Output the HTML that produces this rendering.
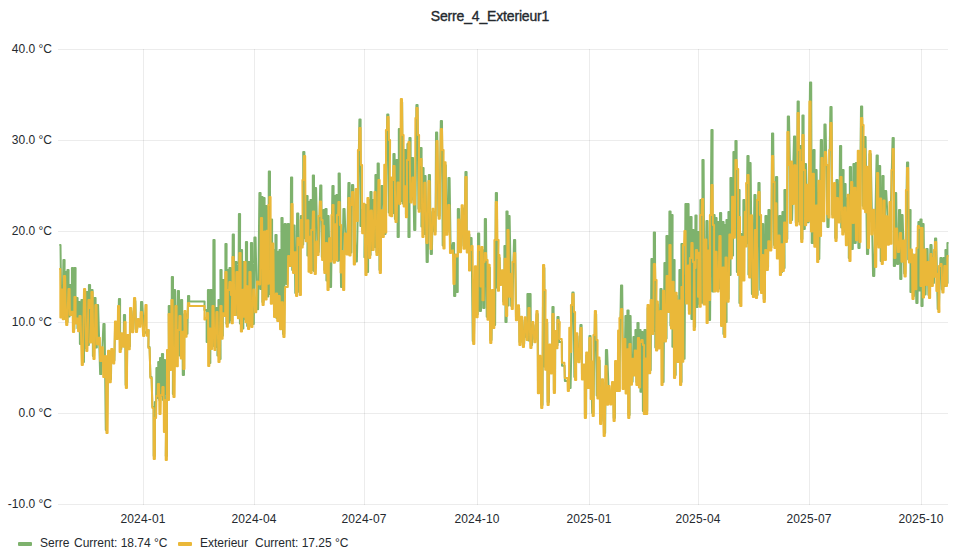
<!DOCTYPE html>
<html lang="fr"><head><meta charset="utf-8"><title>Serre_4_Exterieur1</title>
<style>
html,body{margin:0;padding:0;background:#fff;}
body{width:980px;height:560px;position:relative;overflow:hidden;font-family:"Liberation Sans",sans-serif;color:#24292e;}
.title{position:absolute;left:0;top:8px;width:980px;text-align:center;font-size:14px;line-height:16px;font-weight:400;color:#24292e;-webkit-text-stroke:0.35px #24292e;letter-spacing:-0.17px;}
.plot{position:absolute;left:0;top:0;}
.yl{position:absolute;left:0;width:52px;text-align:right;font-size:12px;line-height:14px;white-space:nowrap;}
.xl{position:absolute;width:80px;text-align:center;font-size:12px;line-height:14px;top:512px;letter-spacing:0.15px;}
.lg{position:absolute;top:536px;font-size:12px;line-height:14px;white-space:nowrap;}
.sw{position:absolute;top:542px;width:14px;height:4px;border-radius:1px;}
</style></head><body>
<div class="title">Serre_4_Exterieur1</div>
<svg class="plot" width="980" height="560" viewBox="0 0 980 560">
<rect x="58" y="49" width="890" height="1" fill="rgba(0,0,0,0.075)"/>
<rect x="58" y="140" width="890" height="1" fill="rgba(0,0,0,0.075)"/>
<rect x="58" y="231" width="890" height="1" fill="rgba(0,0,0,0.075)"/>
<rect x="58" y="322" width="890" height="1" fill="rgba(0,0,0,0.075)"/>
<rect x="58" y="413" width="890" height="1" fill="rgba(0,0,0,0.075)"/>
<rect x="58" y="504" width="890" height="1" fill="rgba(0,0,0,0.075)"/>
<rect x="143" y="49" width="1" height="456" fill="rgba(0,0,0,0.075)"/>
<rect x="254" y="49" width="1" height="456" fill="rgba(0,0,0,0.075)"/>
<rect x="364" y="49" width="1" height="456" fill="rgba(0,0,0,0.075)"/>
<rect x="477" y="49" width="1" height="456" fill="rgba(0,0,0,0.075)"/>
<rect x="589" y="49" width="1" height="456" fill="rgba(0,0,0,0.075)"/>
<rect x="698" y="49" width="1" height="456" fill="rgba(0,0,0,0.075)"/>
<rect x="809" y="49" width="1" height="456" fill="rgba(0,0,0,0.075)"/>
<rect x="921" y="49" width="1" height="456" fill="rgba(0,0,0,0.075)"/>
<polyline fill="none" stroke="#7eb26d" stroke-width="2" stroke-linejoin="round" points="59.30,245.0 60.50,245.0 61.35,316.2 62.55,316.2 63.40,260.0 64.60,260.0 64.40,318.8 65.60,318.8 65.40,272.0 66.60,272.0 66.40,322.0 67.60,322.0 67.40,270.0 68.60,270.0 68.40,316.4 69.60,316.4 69.40,285.0 70.60,285.0 70.65,311.9 71.85,311.9 71.90,268.0 73.10,268.0 73.15,329.0 74.35,329.0 74.40,268.0 75.60,268.0 75.40,320.5 76.60,320.5 76.40,298.0 77.60,298.0 77.40,328.2 78.60,328.2 78.40,302.0 79.60,302.0 79.90,343.9 81.10,343.9 81.40,300.0 82.60,300.0 82.78,362.0 83.97,362.0 84.15,292.0 85.35,292.0 85.28,348.0 86.47,348.0 86.40,292.0 87.60,292.0 87.65,345.1 88.85,345.1 88.90,285.0 90.10,285.0 90.15,339.5 91.35,339.5 91.40,290.0 92.60,290.0 92.90,356.0 94.10,356.0 94.40,298.0 95.60,298.0 95.65,347.6 96.85,347.6 96.90,305.0 98.10,305.0 100.15,374.1 101.35,374.1 103.40,324.0 104.60,324.0 105.78,430.0 106.98,430.0 108.17,353.8 109.37,353.8 109.76,379.3 110.96,379.3 111.35,352.1 112.55,352.1 113.22,360.4 114.42,360.4 115.09,324.5 116.29,324.5 116.99,335.9 118.19,335.9 118.90,299.0 120.10,299.0 120.11,349.0 121.31,349.0 121.31,336.2 122.51,336.2 122.61,343.7 123.81,343.7 123.90,315.0 125.10,315.0 125.62,385.0 126.82,385.0 127.33,337.9 128.53,337.9 128.74,346.3 129.94,346.3 130.15,311.0 131.35,311.0 132.15,329.2 133.35,329.2 134.15,301.0 135.35,301.0 136.00,329.0 137.20,329.0 137.84,322.1 139.04,322.1 139.42,323.7 140.62,323.7 141.00,302.0 142.20,302.0 144.00,333.0 145.20,333.0 147.40,330.0 148.60,330.0 148.40,347.0 149.60,347.0 150.40,377.0 151.60,377.0 152.40,407.0 153.60,407.0 153.70,456.0 154.90,456.0 154.90,402.0 156.10,402.0 156.40,368.0 157.60,368.0 157.40,398.0 158.60,398.0 158.20,362.0 159.40,362.0 159.20,400.0 160.40,400.0 160.00,358.0 161.20,358.0 161.00,396.0 162.20,396.0 161.90,354.0 163.10,354.0 163.00,400.0 164.20,400.0 163.90,360.0 165.10,360.0 164.70,394.0 165.90,394.0 165.40,362.0 166.60,362.0 165.80,456.0 167.00,456.0 167.00,352.0 168.20,352.0 167.80,396.0 169.00,396.0 168.70,306.0 169.90,306.0 170.35,367.1 171.55,367.1 171.80,277.0 173.00,277.0 172.85,394.0 174.05,394.0 173.90,290.0 175.10,290.0 175.85,363.2 177.05,363.2 177.80,291.0 179.00,291.0 179.40,355.4 180.60,355.4 181.00,300.0 182.20,300.0 182.78,375.0 183.97,375.0 184.55,314.0 185.75,314.0 186.28,333.8 187.47,333.8 188.00,296.0 189.20,296.0 189.20,301.5 190.40,301.5 190.40,301.5 191.60,301.5 191.50,301.5 192.70,301.5 192.60,301.5 193.80,301.5 193.95,301.5 195.15,301.5 195.30,301.5 196.50,301.5 196.65,301.5 197.85,301.5 198.00,301.5 199.20,301.5 199.35,301.5 200.55,301.5 200.70,301.5 201.90,301.5 202.05,301.5 203.25,301.5 203.40,301.5 204.60,301.5 204.40,310.0 205.60,310.0 205.40,310.0 206.60,310.0 206.65,342.1 207.85,342.1 207.90,290.0 209.10,290.0 209.15,363.0 210.35,363.0 210.40,290.0 211.60,290.0 211.90,346.0 213.10,346.0 213.40,240.0 214.60,240.0 214.90,347.0 216.10,347.0 216.40,308.0 217.60,308.0 217.40,355.5 218.60,355.5 218.40,300.0 219.60,300.0 219.40,359.0 220.60,359.0 220.40,270.0 221.60,270.0 221.65,335.8 222.85,335.8 222.90,280.0 224.10,280.0 224.15,313.1 225.35,313.1 225.40,244.0 226.60,244.0 226.40,323.8 227.60,323.8 227.40,270.0 228.60,270.0 228.40,322.6 229.60,322.6 229.40,268.0 230.60,268.0 231.05,320.2 232.25,320.2 232.70,234.5 233.90,234.5 234.05,312.0 235.25,312.0 235.40,262.0 236.60,262.0 237.15,315.2 238.35,315.2 238.90,214.0 240.10,214.0 239.90,323.6 241.10,323.6 240.90,250.0 242.10,250.0 242.15,328.5 243.35,328.5 243.40,262.0 244.60,262.0 244.65,319.2 245.85,319.2 245.90,242.0 247.10,242.0 247.15,326.0 248.35,326.0 248.40,262.0 249.60,262.0 249.65,325.1 250.85,325.1 250.90,243.0 252.10,243.0 252.65,324.0 253.85,324.0 254.40,237.5 255.60,237.5 256.90,309.2 258.10,309.2 259.40,193.0 260.60,193.0 260.40,289.1 261.60,289.1 261.40,197.0 262.60,197.0 262.40,302.0 263.60,302.0 263.40,198.0 264.60,198.0 264.40,298.7 265.60,298.7 265.40,206.0 266.60,206.0 267.10,296.5 268.30,296.5 268.80,171.6 270.00,171.6 269.85,293.9 271.05,293.9 270.90,219.5 272.10,219.5 272.15,300.7 273.35,300.7 273.40,250.0 274.60,250.0 274.40,314.0 275.60,314.0 275.40,235.0 276.60,235.0 276.40,318.1 277.60,318.1 277.40,252.0 278.60,252.0 278.40,321.1 279.60,321.1 279.40,250.0 280.60,250.0 280.40,326.2 281.60,326.2 281.40,218.0 282.60,218.0 283.00,334.0 284.20,334.0 284.60,224.0 285.80,224.0 286.15,284.1 287.35,284.1 287.70,224.0 288.90,224.0 289.35,263.1 290.55,263.1 291.00,177.6 292.20,177.6 292.20,270.0 293.40,270.0 293.40,225.5 294.60,225.5 295.25,293.0 296.45,293.0 297.10,213.5 298.30,213.5 299.00,292.0 300.20,292.0 300.90,216.0 302.10,216.0 302.05,244.4 303.25,244.4 303.20,152.0 304.40,152.0 304.80,238.3 306.00,238.3 306.40,196.0 307.60,196.0 307.40,255.6 308.60,255.6 308.40,202.0 309.60,202.0 309.40,268.7 310.60,268.7 310.40,200.0 311.60,200.0 311.60,270.0 312.80,270.0 312.80,175.6 314.00,175.6 313.85,271.0 315.05,271.0 314.90,188.0 316.10,188.0 317.55,252.0 318.75,252.0 320.20,185.6 321.40,185.6 321.80,257.1 323.00,257.1 323.40,210.0 324.60,210.0 324.40,270.0 325.60,270.0 325.40,209.0 326.60,209.0 326.40,280.5 327.60,280.5 327.40,216.0 328.60,216.0 329.90,287.0 331.10,287.0 332.40,186.0 333.60,186.0 333.40,259.8 334.60,259.8 334.40,196.0 335.60,196.0 335.40,257.2 336.60,257.2 336.40,195.0 337.60,195.0 337.50,260.8 338.70,260.8 338.60,173.6 339.80,173.6 341.00,287.0 342.20,287.0 343.40,209.0 344.60,209.0 345.90,251.4 347.10,251.4 348.40,183.0 349.60,183.0 350.20,252.4 351.40,252.4 352.00,185.0 353.20,185.0 355.70,261.4 356.90,261.4 359.40,119.6 360.60,119.6 360.40,225.9 361.60,225.9 361.40,210.0 362.60,210.0 362.40,230.2 363.60,230.2 363.40,222.0 364.60,222.0 364.40,257.3 365.60,257.3 365.40,205.0 366.60,205.0 366.90,272.0 368.10,272.0 368.40,200.0 369.60,200.0 369.40,255.1 370.60,255.1 370.40,192.0 371.60,192.0 371.40,250.1 372.60,250.1 372.40,200.0 373.60,200.0 373.90,247.1 375.10,247.1 375.40,175.0 376.60,175.0 376.50,251.9 377.70,251.9 377.60,163.6 378.80,163.6 379.50,270.0 380.70,270.0 381.40,186.0 382.60,186.0 384.30,233.9 385.50,233.9 387.20,114.4 388.40,114.4 388.75,212.4 389.95,212.4 390.30,180.4 391.50,180.4 391.85,213.2 393.05,213.2 393.40,154.0 394.60,154.0 394.90,219.0 396.10,219.0 396.40,160.0 397.60,160.0 397.60,237.0 398.80,237.0 398.80,129.0 400.00,129.0 399.87,201.0 401.07,201.0 400.95,102.0 402.15,102.0 402.67,203.6 403.88,203.6 404.40,150.0 405.60,150.0 405.90,214.2 407.10,214.2 407.40,144.0 408.60,144.0 408.40,237.0 409.60,237.0 409.40,138.0 410.60,138.0 410.65,199.6 411.85,199.6 411.90,158.0 413.10,158.0 414.15,230.0 415.35,230.0 416.40,105.0 417.60,105.0 418.40,208.8 419.60,208.8 420.40,148.0 421.60,148.0 421.40,226.5 422.60,226.5 422.40,168.0 423.60,168.0 423.40,234.0 424.60,234.0 424.40,176.0 425.60,176.0 426.60,262.0 427.80,262.0 428.80,175.0 430.00,175.0 430.70,254.0 431.90,254.0 432.59,211.7 433.79,211.7 434.30,231.5 435.50,231.5 436.00,132.4 437.20,132.4 438.40,215.8 439.60,215.8 440.80,121.0 442.00,121.0 442.68,245.6 443.88,245.6 444.56,165.3 445.76,165.3 446.48,231.8 447.68,231.8 448.40,178.0 449.60,178.0 450.65,250.1 451.85,250.1 452.90,243.0 454.10,243.0 454.09,296.0 455.29,296.0 455.27,257.5 456.47,257.5 456.54,292.0 457.74,292.0 457.80,209.0 459.00,209.0 459.79,249.3 460.99,249.3 461.77,208.2 462.97,208.2 463.59,245.8 464.79,245.8 465.40,172.0 466.60,172.0 466.80,249.6 468.00,249.6 468.21,234.5 469.41,234.5 469.30,267.6 470.50,267.6 470.40,238.0 471.60,238.0 472.73,341.0 473.93,341.0 475.05,269.3 476.25,269.3 476.53,314.3 477.73,314.3 478.00,233.6 479.20,233.6 479.77,311.0 480.98,311.0 481.55,250.0 482.75,250.0 483.17,308.0 484.38,308.0 484.80,219.0 486.00,219.0 486.71,316.8 487.91,316.8 488.63,267.7 489.83,267.7 490.34,340.0 491.54,340.0 492.05,293.0 493.25,293.0 493.93,325.1 495.13,325.1 495.80,193.0 497.00,193.0 497.13,287.7 498.33,287.7 498.46,258.1 499.66,258.1 500.23,282.0 501.43,282.0 502.00,273.2 503.20,273.2 503.20,301.6 504.40,301.6 504.40,246.0 505.60,246.0 505.40,322.0 506.60,322.0 506.40,211.6 507.60,211.6 507.40,305.6 508.60,305.6 508.40,216.0 509.60,216.0 511.20,306.1 512.40,306.1 514.00,240.0 515.20,240.0 515.98,317.3 517.18,317.3 517.96,308.3 519.16,308.3 519.50,342.0 520.70,342.0 521.03,319.8 522.23,319.8 522.95,344.0 524.15,344.0 524.87,320.3 526.07,320.3 526.14,336.9 527.34,336.9 527.40,294.0 528.60,294.0 528.40,340.5 529.60,340.5 529.40,294.0 530.60,294.0 530.88,345.0 532.08,345.0 532.35,325.1 533.55,325.1 534.45,339.3 535.65,339.3 536.55,314.0 537.75,314.0 538.01,390.2 539.21,390.2 539.47,358.8 540.67,358.8 541.31,405.0 542.51,405.0 543.15,268.0 544.35,268.0 544.61,366.8 545.81,366.8 546.07,322.8 547.27,322.8 547.69,402.0 548.89,402.0 549.31,347.6 550.51,347.6 550.86,370.6 552.06,370.6 552.40,307.0 553.60,307.0 553.85,390.0 555.05,390.0 555.30,334.0 556.50,334.0 556.35,345.2 557.55,345.2 557.40,317.0 558.60,317.0 559.03,341.9 560.23,341.9 560.66,341.9 561.86,341.9 562.02,365.7 563.22,365.7 563.37,365.7 564.57,365.7 564.89,381.1 566.09,381.1 566.41,381.1 567.61,381.1 569.40,388.0 570.60,388.0 572.40,292.4 573.60,292.4 574.36,377.0 575.56,377.0 576.32,336.3 577.52,336.3 578.36,359.3 579.56,359.3 580.40,325.0 581.60,325.0 581.99,376.4 583.19,376.4 583.59,367.4 584.79,367.4 584.94,415.0 586.14,415.0 586.29,355.6 587.49,355.6 587.85,385.1 589.05,385.1 589.40,336.0 590.60,336.0 592.17,413.0 593.38,413.0 594.95,314.0 596.15,314.0 596.69,395.5 597.89,395.5 598.43,360.5 599.63,360.5 600.22,421.0 601.42,421.0 602.02,382.3 603.22,382.3 603.96,433.0 605.16,433.0 605.90,350.0 607.10,350.0 609.03,401.7 610.23,401.7 612.15,385.1 613.35,385.1 613.68,418.0 614.88,418.0 615.21,363.9 616.41,363.9 618.11,388.0 619.31,388.0 621.00,285.6 622.20,285.6 623.20,386.0 624.40,386.0 625.40,316.0 626.60,316.0 626.40,390.4 627.60,390.4 627.40,310.6 628.60,310.6 628.40,415.0 629.60,415.0 629.40,316.0 630.60,316.0 631.40,381.8 632.60,381.8 633.40,337.0 634.60,337.0 634.40,372.5 635.60,372.5 635.40,330.0 636.60,330.0 636.40,382.1 637.60,382.1 637.40,323.0 638.60,323.0 638.40,384.4 639.60,384.4 639.40,330.0 640.60,330.0 640.40,391.8 641.60,391.8 641.40,332.0 642.60,332.0 642.90,411.0 644.10,411.0 644.40,330.0 645.60,330.0 646.00,411.0 647.20,411.0 647.61,307.9 648.81,307.9 649.50,370.3 650.70,370.3 651.40,259.0 652.60,259.0 652.60,331.0 653.80,331.0 653.80,232.4 655.00,232.4 655.29,347.5 656.49,347.5 656.79,304.5 657.99,304.5 658.59,345.6 659.79,345.6 660.40,289.0 661.60,289.0 662.40,382.0 663.60,382.0 664.40,263.0 665.60,263.0 665.40,338.6 666.60,338.6 666.40,236.0 667.60,236.0 667.90,309.0 669.10,309.0 669.40,211.6 670.60,211.6 670.40,325.5 671.60,325.5 671.40,215.0 672.60,215.0 672.40,346.8 673.60,346.8 673.40,260.0 674.60,260.0 674.50,375.0 675.70,375.0 675.60,295.8 676.80,295.8 677.50,358.9 678.70,358.9 679.40,270.0 680.60,270.0 680.40,382.0 681.60,382.0 681.40,244.0 682.60,244.0 683.40,358.8 684.60,358.8 685.40,204.0 686.60,204.0 686.40,300.5 687.60,300.5 687.40,204.0 688.60,204.0 688.90,310.8 690.10,310.8 690.40,217.0 691.60,217.0 691.40,318.9 692.60,318.9 692.40,230.0 693.60,230.0 693.90,327.0 695.10,327.0 695.40,215.6 696.60,215.6 696.40,307.0 697.60,307.0 697.40,232.0 698.60,232.0 698.90,303.8 700.10,303.8 700.40,200.0 701.60,200.0 701.40,302.8 702.60,302.8 702.40,160.0 703.60,160.0 704.40,301.5 705.60,301.5 706.40,221.0 707.60,221.0 708.90,320.0 710.10,320.0 711.40,130.0 712.60,130.0 712.40,291.5 713.60,291.5 713.40,215.0 714.60,215.0 714.40,288.4 715.60,288.4 715.40,218.0 716.60,218.0 716.40,288.5 717.60,288.5 717.40,222.0 718.60,222.0 718.70,288.6 719.90,288.6 720.00,213.0 721.20,213.0 721.20,323.0 722.40,323.0 722.40,222.0 723.60,222.0 723.40,334.0 724.60,334.0 724.40,225.0 725.60,225.0 725.40,321.9 726.60,321.9 726.40,220.0 727.60,220.0 727.40,298.8 728.60,298.8 728.40,212.0 729.60,212.0 729.40,275.0 730.60,275.0 730.40,178.0 731.60,178.0 731.90,255.4 733.10,255.4 733.40,152.0 734.60,152.0 734.40,234.8 735.60,234.8 735.40,141.0 736.60,141.0 736.90,271.9 738.10,271.9 738.40,190.0 739.60,190.0 739.40,303.0 740.60,303.0 740.40,234.0 741.60,234.0 741.90,277.5 743.10,277.5 743.40,200.0 744.60,200.0 745.40,243.4 746.60,243.4 747.40,156.0 748.60,156.0 748.40,274.4 749.60,274.4 749.40,163.0 750.60,163.0 751.90,294.0 753.10,294.0 754.40,195.0 755.60,195.0 756.40,295.0 757.60,295.0 758.40,183.0 759.60,183.0 760.20,289.9 761.40,289.9 762.00,224.0 763.20,224.0 763.70,299.0 764.90,299.0 765.40,216.0 766.60,216.0 766.90,266.9 768.10,266.9 768.40,210.0 769.60,210.0 770.20,247.6 771.40,247.6 772.00,133.6 773.20,133.6 774.00,245.1 775.20,245.1 776.00,177.0 777.20,177.0 777.70,255.4 778.90,255.4 779.40,216.0 780.60,216.0 780.90,272.0 782.10,272.0 782.40,212.0 783.60,212.0 783.40,268.0 784.60,268.0 784.40,190.0 785.60,190.0 786.10,238.9 787.30,238.9 787.80,116.4 789.00,116.4 790.90,220.1 792.10,220.1 794.00,136.4 795.20,136.4 795.80,222.4 797.00,222.4 797.60,101.6 798.80,101.6 798.80,221.6 800.00,221.6 800.00,146.0 801.20,146.0 801.20,239.0 802.40,239.0 802.40,115.4 803.60,115.4 803.60,229.1 804.80,229.1 804.80,164.0 806.00,164.0 807.40,222.3 808.60,222.3 810.00,82.4 811.20,82.4 811.70,243.0 812.90,243.0 813.40,150.0 814.60,150.0 814.40,243.7 815.60,243.7 815.40,170.0 816.60,170.0 818.10,259.0 819.30,259.0 820.80,140.0 822.00,140.0 822.60,218.2 823.80,218.2 824.40,124.4 825.60,124.4 827.40,227.0 828.60,227.0 830.40,107.0 831.60,107.0 832.28,214.4 833.48,214.4 834.15,186.0 835.35,186.0 835.28,238.0 836.48,238.0 836.40,180.0 837.60,180.0 838.20,219.5 839.40,219.5 840.00,146.0 841.20,146.0 841.20,227.6 842.40,227.6 842.40,170.0 843.60,170.0 843.40,231.6 844.60,231.6 844.40,184.0 845.60,184.0 846.07,242.3 847.27,242.3 847.74,197.7 848.94,197.7 848.77,258.0 849.97,258.0 849.80,167.0 851.00,167.0 851.60,249.0 852.80,249.0 853.40,164.0 854.60,164.0 854.60,243.1 855.80,243.1 855.80,163.0 857.00,163.0 858.40,248.0 859.60,248.0 861.00,106.6 862.20,106.6 862.70,205.8 863.90,205.8 864.40,137.0 865.60,137.0 866.98,254.0 868.18,254.0 869.55,154.0 870.75,154.0 873.07,276.0 874.27,276.0 876.60,155.4 877.80,155.4 877.80,244.5 879.00,244.5 879.00,166.0 880.20,166.0 880.70,261.0 881.90,261.0 882.40,176.0 883.60,176.0 883.70,257.0 884.90,257.0 885.00,191.0 886.20,191.0 888.80,241.7 890.00,241.7 892.60,138.0 893.80,138.0 893.80,266.0 895.00,266.0 895.00,193.0 896.20,193.0 897.00,264.0 898.20,264.0 899.00,210.0 900.20,210.0 900.20,279.0 901.40,279.0 901.40,215.0 902.60,215.0 904.20,273.5 905.40,273.5 907.00,162.4 908.20,162.4 908.20,259.5 909.40,259.5 909.40,210.0 910.60,210.0 910.40,292.0 911.60,292.0 911.40,254.0 912.60,254.0 912.82,296.0 914.02,296.0 914.24,257.8 915.44,257.8 916.32,303.0 917.52,303.0 918.40,222.0 919.60,222.0 919.40,290.4 920.60,290.4 920.40,219.6 921.60,219.6 921.40,306.0 922.60,306.0 922.40,224.0 923.60,224.0 924.40,294.5 925.60,294.5 926.40,249.0 927.60,249.0 928.40,295.0 929.60,295.0 930.40,245.0 931.60,245.0 932.70,283.1 933.90,283.1 935.00,238.6 936.20,238.6 937.70,309.0 938.90,309.0 940.40,258.0 941.60,258.0 941.90,289.5 943.10,289.5 943.40,258.0 944.60,258.0 944.40,285.9 945.60,285.9 945.40,250.0 946.60,250.0 946.40,283.0 947.60,283.0 947.40,243.0 948.60,243.0"/>
<polyline fill="none" stroke="#eab839" stroke-width="2" stroke-linejoin="round" points="59.10,269.0 60.30,269.0 60.35,317.6 61.55,317.6 61.60,289.4 62.80,289.4 62.75,319.2 63.95,319.2 63.90,276.0 65.10,276.0 66.15,325.0 67.35,325.0 68.40,289.0 69.60,289.0 69.93,314.9 71.13,314.9 71.45,311.7 72.65,311.7 72.93,332.0 74.13,332.0 74.40,297.0 75.60,297.0 75.56,323.5 76.76,323.5 76.73,318.4 77.93,318.4 78.06,331.2 79.26,331.2 79.40,316.0 80.60,316.0 81.70,365.0 82.90,365.0 84.00,289.0 85.20,289.0 86.20,351.0 87.40,351.0 88.40,300.0 89.60,300.0 89.90,308.0 91.10,308.0 89.90,308.0 91.10,308.0 90.00,342.5 91.20,342.5 91.40,292.0 92.60,292.0 93.40,359.0 94.60,359.0 95.40,305.0 96.60,305.0 97.03,344.5 98.23,344.5 98.66,337.8 99.86,337.8 100.16,361.1 101.36,361.1 101.66,347.3 102.86,347.3 103.24,377.1 104.44,377.1 104.83,356.0 106.03,356.0 106.42,433.0 107.62,433.0 108.02,350.8 109.22,350.8 109.61,382.3 110.81,382.3 111.20,349.1 112.40,349.1 113.07,363.4 114.27,363.4 114.94,321.5 116.14,321.5 116.47,338.9 117.67,338.9 118.00,306.0 119.20,306.0 119.58,352.0 120.78,352.0 121.16,333.2 122.36,333.2 122.78,346.7 123.98,346.7 124.40,322.0 125.60,322.0 125.79,388.0 126.99,388.0 127.18,334.9 128.38,334.9 128.59,349.3 129.79,349.3 130.00,308.0 131.20,308.0 132.00,332.2 133.20,332.2 134.00,298.0 135.20,298.0 135.85,332.0 137.05,332.0 137.69,319.1 138.89,319.1 139.25,326.7 140.45,326.7 140.80,312.0 142.00,312.0 143.10,336.0 144.30,336.0 145.40,305.0 146.60,305.0 146.72,335.8 147.92,335.8 147.40,330.0 148.60,330.0 148.40,348.0 149.60,348.0 150.40,378.0 151.60,378.0 152.40,408.0 153.60,408.0 153.70,459.0 154.90,459.0 154.90,418.0 156.10,418.0 156.40,396.0 157.60,396.0 157.90,384.0 159.10,384.0 159.40,414.0 160.60,414.0 160.90,395.0 162.10,395.0 162.40,387.0 163.60,387.0 163.90,432.0 165.10,432.0 164.90,400.0 166.10,400.0 165.70,460.0 166.90,460.0 167.00,350.0 168.20,350.0 167.80,400.0 169.00,400.0 168.60,314.0 169.80,314.0 170.00,370.1 171.20,370.1 171.40,300.0 172.60,300.0 173.40,397.0 174.60,397.0 175.40,306.0 176.60,306.0 176.65,366.2 177.85,366.2 177.90,330.0 179.10,330.0 179.40,316.0 180.60,316.0 180.78,358.4 181.98,358.4 182.16,331.7 183.36,331.7 183.28,369.0 184.48,369.0 184.40,311.0 185.60,311.0 185.40,336.8 186.60,336.8 186.40,318.0 187.60,318.0 188.00,303.0 189.20,303.0 189.40,306.0 190.60,306.0 190.21,306.0 191.41,306.0 191.02,306.0 192.22,306.0 192.64,306.0 193.84,306.0 194.26,306.0 195.46,306.0 195.87,306.0 197.07,306.0 197.48,306.0 198.68,306.0 198.85,306.0 200.05,306.0 200.22,306.0 201.42,306.0 201.81,306.0 203.01,306.0 203.40,306.0 204.60,306.0 204.40,319.5 205.60,319.5 205.40,318.0 206.60,318.0 206.90,313.0 208.10,313.0 208.17,366.0 209.37,366.0 209.43,328.5 210.63,328.5 210.92,349.0 212.12,349.0 212.40,306.0 213.60,306.0 214.40,350.0 215.60,350.0 216.40,312.0 217.60,312.0 218.40,362.0 219.60,362.0 220.40,306.0 221.60,306.0 221.46,338.8 222.66,338.8 222.51,313.3 223.71,313.3 223.96,316.1 225.16,316.1 225.40,272.0 226.60,272.0 226.65,326.8 227.85,326.8 227.90,290.0 229.10,290.0 229.40,282.0 230.60,282.0 230.90,295.0 232.10,295.0 231.65,323.2 232.85,323.2 232.40,257.0 233.60,257.0 234.40,315.0 235.60,315.0 236.40,272.0 237.60,272.0 237.90,318.2 239.10,318.2 239.40,253.0 240.60,253.0 240.83,331.5 242.03,331.5 242.25,289.8 243.45,289.8 243.33,316.7 244.53,316.7 244.40,262.0 245.60,262.0 245.50,322.2 246.70,322.2 246.61,286.3 247.81,286.3 248.00,329.0 249.20,329.0 249.40,272.0 250.60,272.0 251.28,327.0 252.48,327.0 253.17,289.5 254.37,289.5 255.08,312.2 256.28,312.2 256.98,281.6 258.18,281.6 258.94,284.6 260.14,284.6 260.90,218.0 262.10,218.0 262.51,305.0 263.71,305.0 264.12,231.6 265.32,231.6 265.43,299.5 266.63,299.5 266.74,230.7 267.94,230.7 267.57,283.7 268.77,283.7 268.40,205.0 269.60,205.0 269.40,197.0 270.60,197.0 270.79,303.7 271.99,303.7 272.18,243.5 273.38,243.5 274.02,317.0 275.22,317.0 275.87,293.6 277.07,293.6 277.20,321.1 278.40,321.1 278.52,295.9 279.72,295.9 280.06,329.2 281.26,329.2 281.59,302.2 282.79,302.2 283.35,337.0 284.55,337.0 285.10,287.1 286.30,287.1 286.60,287.1 287.80,287.1 288.10,256.1 289.30,256.1 289.75,266.1 290.95,266.1 291.40,204.0 292.60,204.0 293.04,273.0 294.24,273.0 294.67,252.2 295.87,252.2 296.04,296.0 297.24,296.0 297.40,238.0 298.60,238.0 298.90,245.0 300.10,245.0 299.76,295.0 300.96,295.0 300.61,220.0 301.81,220.0 301.51,247.4 302.71,247.4 302.40,180.0 303.60,180.0 304.00,156.0 305.20,156.0 305.59,241.3 306.79,241.3 307.18,220.2 308.38,220.2 308.51,271.7 309.71,271.7 309.84,236.8 311.04,236.8 310.52,273.0 311.72,273.0 311.20,230.0 312.40,230.0 312.90,211.5 314.10,211.5 314.67,274.0 315.87,274.0 316.44,241.6 317.64,241.6 317.42,255.0 318.62,255.0 318.40,216.0 319.60,216.0 319.90,201.5 321.10,201.5 321.40,220.0 322.60,220.0 322.07,260.1 323.27,260.1 322.74,225.7 323.94,225.7 324.29,273.0 325.49,273.0 325.84,243.1 327.04,243.1 327.46,290.0 328.66,290.0 329.08,238.3 330.28,238.3 330.24,261.6 331.44,261.6 331.40,215.0 332.60,215.0 332.40,205.0 333.60,205.0 333.75,262.8 334.95,262.8 335.10,224.3 336.30,224.3 336.00,260.2 337.20,260.2 336.90,215.0 338.10,215.0 338.40,202.0 339.60,202.0 339.90,225.0 341.10,225.0 340.62,272.5 341.82,272.5 341.35,250.9 342.55,250.9 343.07,290.0 344.27,290.0 344.78,233.4 345.98,233.4 346.59,254.4 347.79,254.4 348.40,198.0 349.60,198.0 349.40,255.4 350.60,255.4 350.40,205.0 351.60,205.0 352.00,192.0 353.20,192.0 353.76,264.4 354.96,264.4 355.52,188.9 356.72,188.9 356.71,221.0 357.91,221.0 357.90,150.0 359.10,150.0 359.40,128.0 360.60,128.0 360.90,165.0 362.10,165.0 362.14,233.2 363.34,233.2 363.39,203.8 364.59,203.8 365.39,275.0 366.59,275.0 367.40,198.0 368.60,198.0 369.05,258.1 370.25,258.1 370.71,210.5 371.91,210.5 372.55,250.1 373.75,250.1 374.40,192.0 375.60,192.0 376.40,254.9 377.60,254.9 378.40,180.0 379.60,180.0 379.73,273.0 380.93,273.0 381.05,210.2 382.25,210.2 382.65,236.9 383.85,236.9 384.25,164.7 385.45,164.7 385.07,232.5 386.27,232.5 385.90,130.0 387.10,130.0 387.40,117.0 388.60,117.0 388.90,140.0 390.10,140.0 389.52,215.4 390.72,215.4 390.15,177.4 391.35,177.4 391.02,216.2 392.22,216.2 391.90,180.0 393.10,180.0 393.40,166.0 394.60,166.0 395.45,222.0 396.65,222.0 397.50,182.5 398.70,182.5 399.15,204.0 400.35,204.0 400.80,99.0 402.00,99.0 402.40,135.0 403.60,135.0 403.65,206.6 404.85,206.6 404.89,186.3 406.09,186.3 405.90,217.2 407.10,217.2 406.90,160.0 408.10,160.0 408.40,142.0 409.60,142.0 410.37,202.6 411.57,202.6 412.33,177.5 413.53,177.5 413.87,204.5 415.07,204.5 415.40,118.0 416.60,118.0 416.40,108.0 417.60,108.0 417.90,135.0 419.10,135.0 418.65,211.8 419.85,211.8 419.40,165.0 420.60,165.0 420.40,159.0 421.60,159.0 422.36,237.0 423.56,237.0 424.32,182.7 425.52,182.7 426.36,243.0 427.56,243.0 428.40,181.0 429.60,181.0 430.42,249.0 431.62,249.0 432.44,208.7 433.64,208.7 434.42,234.5 435.62,234.5 436.40,141.0 437.60,141.0 438.60,218.8 439.80,218.8 440.80,129.0 442.00,129.0 442.40,150.0 443.60,150.0 443.41,248.6 444.61,248.6 444.41,162.3 445.61,162.3 446.30,234.8 447.50,234.8 448.18,205.0 449.38,205.0 449.96,253.1 451.16,253.1 451.74,250.4 452.94,250.4 453.43,284.0 454.63,284.0 455.12,254.5 456.32,254.5 456.62,256.5 457.82,256.5 458.11,219.4 459.31,219.4 459.87,252.3 461.07,252.3 461.62,205.2 462.82,205.2 463.51,248.8 464.71,248.8 465.40,177.0 466.60,177.0 466.73,252.6 467.93,252.6 468.06,231.5 469.26,231.5 468.98,270.6 470.18,270.6 469.90,250.0 471.10,250.0 471.40,246.0 472.60,246.0 473.15,344.0 474.35,344.0 474.90,266.3 476.10,266.3 476.45,317.3 477.65,317.3 478.00,246.0 479.20,246.0 479.40,250.0 480.60,250.0 480.40,286.6 481.60,286.6 481.40,247.0 482.60,247.0 482.40,300.2 483.60,300.2 483.40,262.0 484.60,262.0 484.80,253.0 486.00,253.0 486.40,260.0 487.60,260.0 487.44,319.8 488.64,319.8 488.48,264.7 489.68,264.7 490.19,343.0 491.39,343.0 491.90,290.0 493.10,290.0 493.15,328.1 494.35,328.1 494.40,240.0 495.60,240.0 495.80,202.0 497.00,202.0 497.40,240.0 498.60,240.0 497.85,290.7 499.05,290.7 498.31,255.1 499.51,255.1 500.08,285.0 501.28,285.0 501.85,270.2 503.05,270.2 503.27,304.6 504.47,304.6 504.69,258.7 505.89,258.7 506.04,316.0 507.24,316.0 507.40,230.0 508.60,230.0 509.17,296.7 510.37,296.7 510.94,273.7 512.14,273.7 511.67,309.1 512.87,309.1 512.40,262.0 513.60,262.0 514.00,253.0 515.20,253.0 515.91,320.3 517.11,320.3 517.81,305.3 519.01,305.3 519.35,345.0 520.55,345.0 520.88,316.8 522.08,316.8 522.80,347.0 524.00,347.0 524.72,317.3 525.92,317.3 526.56,339.9 527.76,339.9 528.40,308.0 529.60,308.0 530.30,348.0 531.50,348.0 532.20,322.1 533.40,322.1 534.30,342.3 535.50,342.3 536.40,311.0 537.60,311.0 537.86,393.2 539.06,393.2 539.32,355.8 540.52,355.8 541.16,408.0 542.36,408.0 543.00,265.0 544.20,265.0 544.40,290.0 545.60,290.0 545.16,369.8 546.36,369.8 545.92,319.8 547.12,319.8 547.54,405.0 548.74,405.0 549.16,344.6 550.36,344.6 550.78,373.6 551.98,373.6 552.40,314.0 553.60,314.0 553.77,393.0 554.97,393.0 555.15,331.0 556.35,331.0 556.27,348.2 557.47,348.2 557.40,320.0 558.60,320.0 558.60,322.0 559.80,322.0 559.56,338.9 560.76,338.9 560.51,338.9 561.71,338.9 561.87,362.7 563.07,362.7 563.22,362.7 564.42,362.7 564.74,378.1 565.94,378.1 566.26,378.1 567.46,378.1 567.76,391.0 568.96,391.0 569.27,327.7 570.47,327.7 570.08,352.0 571.28,352.0 570.90,305.0 572.10,305.0 572.40,294.0 573.60,294.0 573.90,312.0 575.10,312.0 575.03,380.0 576.23,380.0 576.17,333.3 577.37,333.3 578.28,362.3 579.48,362.3 580.40,328.0 581.60,328.0 581.92,379.4 583.12,379.4 583.44,364.4 584.64,364.4 584.79,418.0 585.99,418.0 586.14,352.6 587.34,352.6 587.77,388.1 588.97,388.1 589.40,338.0 590.60,338.0 590.61,398.9 591.81,398.9 591.81,361.4 593.01,361.4 592.61,416.0 593.81,416.0 593.40,335.0 594.60,335.0 594.80,311.0 596.00,311.0 596.40,340.0 597.60,340.0 597.34,398.5 598.54,398.5 598.28,357.5 599.48,357.5 600.07,424.0 601.27,424.0 601.87,379.3 603.07,379.3 603.63,436.0 604.83,436.0 605.40,366.0 606.60,366.0 606.89,404.7 608.09,404.7 608.38,385.9 609.58,385.9 610.19,404.4 611.39,404.4 612.00,382.1 613.20,382.1 613.53,421.0 614.73,421.0 615.06,360.9 616.26,360.9 616.57,390.9 617.77,390.9 618.08,330.6 619.28,330.6 618.74,391.0 619.94,391.0 619.40,318.0 620.60,318.0 621.00,309.0 622.20,309.0 622.60,389.0 623.80,389.0 624.19,338.9 625.39,338.9 625.58,393.4 626.78,393.4 626.97,349.3 628.17,349.3 628.19,418.0 629.39,418.0 629.40,344.0 630.60,344.0 630.78,384.8 631.98,384.8 632.16,358.8 633.36,358.8 633.48,375.5 634.68,375.5 634.81,350.5 636.01,350.5 636.35,385.1 637.55,385.1 637.90,338.0 639.10,338.0 638.90,387.4 640.10,387.4 639.90,342.0 641.10,342.0 641.40,340.0 642.60,340.0 642.90,345.0 644.10,345.0 643.77,414.0 644.97,414.0 644.64,358.4 645.84,358.4 646.05,414.0 647.25,414.0 647.46,304.9 648.66,304.9 649.02,373.3 650.22,373.3 650.59,299.9 651.79,299.9 652.19,334.0 653.39,334.0 653.80,264.0 655.00,264.0 655.40,280.0 656.60,280.0 656.02,350.5 657.22,350.5 656.64,301.5 657.84,301.5 658.29,348.6 659.49,348.6 659.94,311.0 661.14,311.0 661.44,385.0 662.64,385.0 662.93,290.8 664.13,290.8 664.76,341.6 665.96,341.6 666.59,275.9 667.79,275.9 668.00,312.0 669.20,312.0 669.40,245.0 670.60,245.0 670.95,328.5 672.15,328.5 672.50,281.7 673.70,281.7 673.98,378.0 675.18,378.0 675.45,292.8 676.65,292.8 677.06,361.9 678.26,361.9 678.67,300.5 679.87,300.5 680.02,385.0 681.22,385.0 681.36,287.1 682.56,287.1 682.13,361.8 683.33,361.8 682.90,245.0 684.10,245.0 684.40,231.0 685.60,231.0 686.12,303.5 687.32,303.5 687.84,265.4 689.04,265.4 688.87,313.8 690.07,313.8 689.90,258.0 691.10,258.0 691.40,243.0 692.60,243.0 692.90,262.0 694.10,262.0 693.65,330.0 694.85,330.0 694.40,268.0 695.60,268.0 695.90,250.0 697.10,250.0 697.20,258.0 698.40,258.0 697.97,296.8 699.17,296.8 698.73,252.7 699.93,252.7 699.57,306.8 700.77,306.8 700.40,215.0 701.60,215.0 702.00,199.0 703.20,199.0 703.60,304.5 704.80,304.5 705.19,239.4 706.39,239.4 706.54,323.0 707.74,323.0 707.89,250.6 709.09,250.6 708.90,300.0 710.10,300.0 709.90,215.0 711.10,215.0 711.40,185.0 712.60,185.0 712.90,225.0 714.10,225.0 714.13,291.4 715.33,291.4 715.36,251.7 716.56,251.7 717.38,291.6 718.58,291.6 719.40,236.0 720.60,236.0 721.04,326.0 722.24,326.0 722.68,267.6 723.88,267.6 724.10,337.0 725.30,337.0 725.52,257.5 726.72,257.5 727.46,301.8 728.66,301.8 729.39,234.4 730.59,234.4 730.72,258.4 731.92,258.4 732.05,196.7 733.25,196.7 733.73,237.8 734.93,237.8 735.40,160.0 736.60,160.0 737.00,169.0 738.20,169.0 737.90,274.9 739.10,274.9 738.79,216.9 739.99,216.9 740.24,306.0 741.44,306.0 741.69,236.7 742.89,236.7 743.24,280.5 744.44,280.5 744.79,211.7 745.99,211.7 745.45,246.4 746.65,246.4 746.10,183.0 747.30,183.0 747.40,175.0 748.60,175.0 749.13,277.4 750.33,277.4 750.85,215.3 752.05,215.3 752.85,297.0 754.05,297.0 754.85,230.0 756.05,230.0 755.88,298.0 757.08,298.0 756.90,200.0 758.10,200.0 758.40,192.0 759.60,192.0 759.90,215.0 761.10,215.0 760.98,292.9 762.18,292.9 762.06,254.9 763.26,254.9 763.64,302.0 764.84,302.0 765.21,250.0 766.41,250.0 766.73,269.9 767.93,269.9 768.25,241.3 769.45,241.3 770.13,250.6 771.33,250.6 772.00,156.0 773.20,156.0 773.40,182.0 774.60,182.0 774.32,248.1 775.52,248.1 775.25,203.2 776.45,203.2 776.83,258.4 778.03,258.4 778.41,235.5 779.61,235.5 779.84,275.0 781.04,275.0 781.27,244.3 782.47,244.3 782.67,271.0 783.87,271.0 784.08,222.4 785.28,222.4 785.74,241.9 786.94,241.9 787.40,132.0 788.60,132.0 788.90,165.0 790.10,165.0 789.91,223.1 791.11,223.1 790.91,161.6 792.11,161.6 792.58,203.9 793.78,203.9 794.24,165.2 795.44,165.2 795.92,225.4 797.12,225.4 797.60,113.0 798.80,113.0 798.90,150.0 800.10,150.0 799.45,224.6 800.65,224.6 799.99,161.9 801.19,161.9 801.20,242.0 802.40,242.0 802.40,135.0 803.60,135.0 803.90,170.0 805.10,170.0 805.02,225.3 806.22,225.3 806.14,184.8 807.34,184.8 807.77,220.9 808.97,220.9 809.40,101.6 810.60,101.6 811.05,231.5 812.25,231.5 812.70,173.8 813.90,173.8 814.29,246.7 815.49,246.7 815.88,205.5 817.08,205.5 817.12,262.0 818.32,262.0 818.36,180.7 819.56,180.7 819.88,235.9 821.08,235.9 821.40,157.9 822.60,157.9 823.10,221.2 824.30,221.2 824.80,152.0 826.00,152.0 826.40,165.0 827.60,165.0 826.94,214.2 828.14,214.2 827.48,182.4 828.68,182.4 828.34,217.5 829.54,217.5 829.20,150.0 830.40,150.0 830.40,123.0 831.60,123.0 832.20,217.4 833.40,217.4 834.00,183.0 835.20,183.0 835.41,241.0 836.61,241.0 836.81,198.0 838.01,198.0 838.61,222.5 839.81,222.5 840.40,177.0 841.60,177.0 842.26,234.6 843.46,234.6 844.11,207.5 845.31,207.5 845.85,245.3 847.05,245.3 847.59,194.7 848.79,194.7 849.34,261.0 850.54,261.0 851.09,182.1 852.29,182.1 852.66,223.0 853.86,223.0 854.24,187.7 855.44,187.7 855.99,240.3 857.19,240.3 857.75,150.8 858.95,150.8 859.37,242.0 860.57,242.0 861.00,118.0 862.20,118.0 862.40,125.0 863.60,125.0 863.17,208.8 864.37,208.8 863.93,148.9 865.13,148.9 865.07,212.3 866.27,212.3 866.21,166.8 867.41,166.8 867.81,248.0 869.01,248.0 869.40,151.0 870.60,151.0 871.23,234.6 872.43,234.6 873.05,209.7 874.25,209.7 875.03,267.0 876.23,267.0 877.00,173.0 878.20,173.0 878.47,247.5 879.67,247.5 879.94,198.4 881.14,198.4 881.67,264.0 882.87,264.0 883.40,200.5 884.60,200.5 884.73,260.0 885.93,260.0 886.06,216.3 887.26,216.3 887.76,244.7 888.96,244.7 889.45,202.1 890.65,202.1 890.48,243.8 891.68,243.8 891.50,170.0 892.70,170.0 892.60,149.0 893.80,149.0 894.25,258.0 895.45,258.0 895.89,228.6 897.09,228.6 897.89,251.9 899.09,251.9 899.89,233.0 901.09,233.0 901.52,261.8 902.72,261.8 903.16,240.5 904.36,240.5 904.53,276.5 905.73,276.5 905.90,190.0 907.10,190.0 907.00,168.0 908.20,168.0 908.88,262.5 910.08,262.5 910.75,249.6 911.95,249.6 912.42,299.0 913.62,299.0 914.09,254.8 915.29,254.8 915.24,289.3 916.44,289.3 916.40,248.0 917.60,248.0 917.80,226.0 919.00,226.0 919.40,228.0 920.60,228.0 920.40,286.1 921.60,286.1 921.40,228.0 922.60,228.0 922.86,297.5 924.06,297.5 924.33,249.4 925.53,249.4 925.92,285.0 927.12,285.0 927.50,262.1 928.70,262.1 928.95,298.0 930.15,298.0 930.40,254.0 931.60,254.0 931.68,286.1 932.88,286.1 932.96,258.1 934.16,258.1 933.43,276.7 934.63,276.7 933.90,250.0 935.10,250.0 935.00,242.0 936.20,242.0 936.33,290.9 937.53,290.9 937.67,273.7 938.87,273.7 938.28,312.0 939.48,312.0 938.90,266.0 940.10,266.0 940.40,264.0 941.60,264.0 942.33,292.5 943.53,292.5 944.25,266.0 945.45,266.0 945.83,286.0 947.03,286.0 947.40,256.0 948.60,256.0"/>
</svg>
<div class="yl" style="top:42px">40.0 °C</div>
<div class="yl" style="top:133px">30.0 °C</div>
<div class="yl" style="top:224px">20.0 °C</div>
<div class="yl" style="top:315px">10.0 °C</div>
<div class="yl" style="top:406px">0.0 °C</div>
<div class="yl" style="top:497px">-10.0 °C</div>
<div class="xl" style="left:103px">2024-01</div>
<div class="xl" style="left:214px">2024-04</div>
<div class="xl" style="left:324px">2024-07</div>
<div class="xl" style="left:437px">2024-10</div>
<div class="xl" style="left:549px">2025-01</div>
<div class="xl" style="left:658px">2025-04</div>
<div class="xl" style="left:769px">2025-07</div>
<div class="xl" style="left:881px">2025-10</div>
<div class="sw" style="left:18px;background:#7eb26d"></div>
<div class="lg" style="left:40px">Serre</div>
<div class="lg" style="left:74px">Current: 18.74 °C</div>
<div class="sw" style="left:178px;background:#eab839"></div>
<div class="lg" style="left:200px">Exterieur</div>
<div class="lg" style="left:255px">Current: 17.25 °C</div>
</body></html>
